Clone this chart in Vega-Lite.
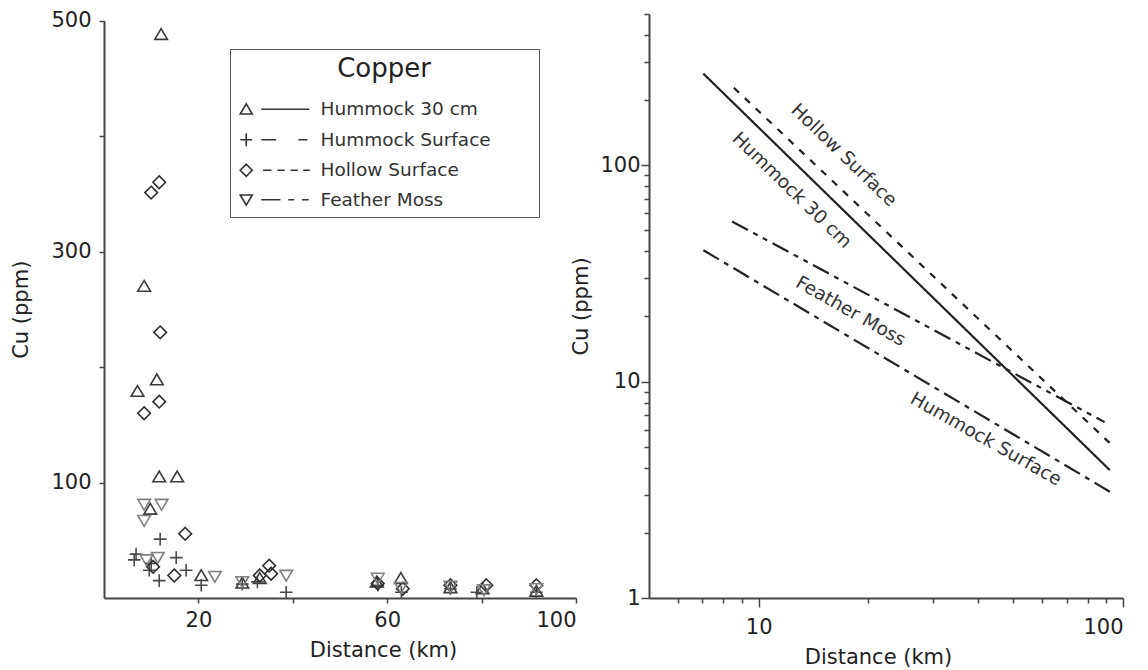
{
  "$schema": "https://vega.github.io/schema/vega-lite/v6.json",
  "padding": {"left": 10, "top": 9, "right": 5, "bottom": 5},
  "background": "white",
  "bounds": "flush",
  "spacing": 73,
  "config": {
    "font": "DejaVu Sans",
    "view": {"stroke": null},
    "axis": {
      "grid": false,
      "labelFont": "DejaVu Sans",
      "titleFont": "DejaVu Sans",
      "labelFontSize": 21,
      "titleFontSize": 21,
      "titleFontWeight": "normal",
      "labelColor": "#222",
      "titleColor": "#222",
      "domainColor": "#444",
      "domainWidth": 2,
      "tickColor": "#444",
      "tickWidth": 1.5
    }
  },
  "hconcat": [
    {
      "width": 472,
      "height": 584,
      "data": {
        "values": [
          {"series": "Hummock 30 cm", "distance": 12.1, "cu": 488},
          {"series": "Hummock 30 cm", "distance": 8.5, "cu": 270},
          {"series": "Hummock 30 cm", "distance": 11.2, "cu": 189},
          {"series": "Hummock 30 cm", "distance": 7.1, "cu": 179},
          {"series": "Hummock 30 cm", "distance": 11.7, "cu": 105},
          {"series": "Hummock 30 cm", "distance": 15.5, "cu": 105},
          {"series": "Hummock 30 cm", "distance": 9.8, "cu": 77},
          {"series": "Hummock 30 cm", "distance": 20.6, "cu": 19.5},
          {"series": "Hummock 30 cm", "distance": 29.3, "cu": 13},
          {"series": "Hummock 30 cm", "distance": 33.0, "cu": 17},
          {"series": "Hummock 30 cm", "distance": 57.8, "cu": 14},
          {"series": "Hummock 30 cm", "distance": 62.9, "cu": 17},
          {"series": "Hummock 30 cm", "distance": 73.4, "cu": 9},
          {"series": "Hummock 30 cm", "distance": 80.2, "cu": 8},
          {"series": "Hummock 30 cm", "distance": 91.6, "cu": 6},
          {"series": "Hummock Surface", "distance": 11.9, "cu": 51},
          {"series": "Hummock Surface", "distance": 6.8, "cu": 38},
          {"series": "Hummock Surface", "distance": 6.4, "cu": 33},
          {"series": "Hummock Surface", "distance": 10.0, "cu": 30},
          {"series": "Hummock Surface", "distance": 9.6, "cu": 24},
          {"series": "Hummock Surface", "distance": 15.3, "cu": 35},
          {"series": "Hummock Surface", "distance": 17.4, "cu": 24},
          {"series": "Hummock Surface", "distance": 11.7, "cu": 15},
          {"series": "Hummock Surface", "distance": 20.6, "cu": 11},
          {"series": "Hummock Surface", "distance": 29.3, "cu": 12},
          {"series": "Hummock Surface", "distance": 32.5, "cu": 14},
          {"series": "Hummock Surface", "distance": 38.6, "cu": 5},
          {"series": "Hummock Surface", "distance": 58.0, "cu": 11},
          {"series": "Hummock Surface", "distance": 63.0, "cu": 5},
          {"series": "Hummock Surface", "distance": 73.4, "cu": 8},
          {"series": "Hummock Surface", "distance": 79.0, "cu": 5},
          {"series": "Hummock Surface", "distance": 91.6, "cu": 5},
          {"series": "Hollow Surface", "distance": 10.0, "cu": 351},
          {"series": "Hollow Surface", "distance": 11.7, "cu": 360},
          {"series": "Hollow Surface", "distance": 11.9, "cu": 230},
          {"series": "Hollow Surface", "distance": 11.7, "cu": 170},
          {"series": "Hollow Surface", "distance": 8.5, "cu": 160},
          {"series": "Hollow Surface", "distance": 17.2, "cu": 55.6},
          {"series": "Hollow Surface", "distance": 14.9, "cu": 19.5},
          {"series": "Hollow Surface", "distance": 10.4, "cu": 27},
          {"series": "Hollow Surface", "distance": 35.0, "cu": 28},
          {"series": "Hollow Surface", "distance": 33.0, "cu": 19.5},
          {"series": "Hollow Surface", "distance": 35.4, "cu": 21},
          {"series": "Hollow Surface", "distance": 58.0, "cu": 12.5},
          {"series": "Hollow Surface", "distance": 63.3, "cu": 8},
          {"series": "Hollow Surface", "distance": 73.4, "cu": 11},
          {"series": "Hollow Surface", "distance": 81.0, "cu": 11},
          {"series": "Hollow Surface", "distance": 91.6, "cu": 11},
          {"series": "Feather Moss", "distance": 8.5, "cu": 81},
          {"series": "Feather Moss", "distance": 12.2, "cu": 81},
          {"series": "Feather Moss", "distance": 8.5, "cu": 67},
          {"series": "Feather Moss", "distance": 11.4, "cu": 35},
          {"series": "Feather Moss", "distance": 9.0, "cu": 33},
          {"series": "Feather Moss", "distance": 23.5, "cu": 18.6},
          {"series": "Feather Moss", "distance": 29.3, "cu": 14},
          {"series": "Feather Moss", "distance": 38.6, "cu": 19.5},
          {"series": "Feather Moss", "distance": 58.0, "cu": 17},
          {"series": "Feather Moss", "distance": 62.9, "cu": 9},
          {"series": "Feather Moss", "distance": 73.4, "cu": 10},
          {"series": "Feather Moss", "distance": 80.5, "cu": 7},
          {"series": "Feather Moss", "distance": 91.6, "cu": 8}
        ]
      },
      "encoding": {
        "x": {
          "field": "distance", "type": "quantitative",
          "scale": {"domain": [0, 100], "nice": false},
          "axis": {
            "values": [20, 40, 60, 80, 100],
            "labelExpr": "datum.value == 40 || datum.value == 80 ? '' : datum.label",
            "tickSize": 5, "labelPadding": 6, "titlePadding": 9,
            "title": "Distance (km)", "titleX": 279
          }
        },
        "y": {
          "field": "cu", "type": "quantitative",
          "scale": {"domain": [0, 500], "nice": false, "range": [584, 6.5]},
          "axis": {
            "values": [100, 200, 300, 400, 500],
            "labelExpr": "datum.value == 200 || datum.value == 400 ? '' : datum.label",
            "tickSize": 5, "labelPadding": 8, "titlePadding": 19,
            "title": "Cu (ppm)"
          }
        }
      },
      "layer": [
        {
          "mark": {"type": "point", "filled": false, "size": 160, "strokeWidth": 1.6, "opacity": 1},
          "encoding": {
            "shape": {
              "field": "series", "type": "nominal",
              "scale": {
                "domain": ["Hummock 30 cm", "Hummock Surface", "Hollow Surface", "Feather Moss"],
                "range": ["M0,-0.9L1,0.8L-1,0.8Z", "M-1,0H1M0,-1V1", "M0,-1L1,0L0,1L-1,0Z", "M0,0.9L1,-0.8L-1,-0.8Z"]
              },
              "legend": null
            },
            "color": {
              "field": "series", "type": "nominal",
              "scale": {
                "domain": ["Hummock 30 cm", "Hummock Surface", "Hollow Surface", "Feather Moss"],
                "range": ["#3a3a3a", "#4a4a4a", "#2e2e2e", "#808080"]
              },
              "legend": null
            }
          }
        },
        {
          "transform": [{"filter": "false"}],
          "mark": {"type": "point", "filled": false, "size": 144, "strokeWidth": 1.6, "color": "#333"},
          "encoding": {
            "shape": {
              "field": "series", "type": "nominal",
              "scale": {
                "domain": ["Hummock 30 cm", "Hummock Surface", "Hollow Surface", "Feather Moss"],
                "range": [
                  "M0,-0.9L1,0.8L-1,0.8ZM2.5,0H10.5",
                  "M-1,0H1M0,-1.1V1.1M2.5,0H5M8.7,0H10.2",
                  "M0,-1L1,0L0,1L-1,0ZM2.8,0H4.2M5.2,0H6.4M7.4,0H8.6M9.5,0H10.6",
                  "M0,0.9L1,-0.8L-1,-0.8ZM2.5,0H5.7M7,0H8M9.3,0H10.4"
                ]
              },
              "legend": {
                "title": "Copper",
                "orient": "none",
                "legendX": 126,
                "legendY": 35,
                "padding": 7,
                "strokeColor": "#555",
                "titleFontSize": 26,
                "titleFontWeight": "normal",
                "titleFont": "DejaVu Sans",
                "titleColor": "#222",
                "titleAnchor": "middle",
                "titlePadding": 18,
                "labelFont": "DejaVu Sans",
                "labelFontSize": 18.5,
                "labelColor": "#333",
                "labelOffset": 65,
                "labelLimit": 400,
                "rowPadding": 10.5,
                "symbolSize": 144,
                "symbolStrokeWidth": 1.6,
                "symbolStrokeColor": "#333",
                "symbolFillColor": "transparent",
                "symbolOpacity": 1,
                "labelExpr": "datum.label + '\u2800\u2800\u2800'"
              }
            }
          }
        }
      ],
      "resolve": {"scale": {"shape": "independent"}}
    },
    {
      "width": 474,
      "height": 584,
      "layer": [
        {
          "data": {
            "values": [
              {"series": "Hummock 30 cm", "x": 7.05, "y": 265},
              {"series": "Hummock 30 cm", "x": 92, "y": 3.9},
              {"series": "Hollow Surface", "x": 8.55, "y": 228},
              {"series": "Hollow Surface", "x": 92, "y": 5.2},
              {"series": "Feather Moss", "x": 8.45, "y": 55},
              {"series": "Feather Moss", "x": 89, "y": 6.5},
              {"series": "Hummock Surface", "x": 7.05, "y": 40.5},
              {"series": "Hummock Surface", "x": 92, "y": 3.1}
            ]
          },
          "mark": {"type": "line", "color": "#222", "strokeWidth": 2.2},
          "encoding": {
            "x": {
              "field": "x", "type": "quantitative",
              "scale": {"type": "log", "domain": [5, 100], "nice": false},
              "axis": {
                "values": [6, 7, 8, 9, 10, 20, 30, 40, 50, 60, 70, 80, 90, 100],
                "labelExpr": "datum.value == 10 ? '10' : datum.value == 100 ? '100' : ''",
                "tickSize": {"condition": {"test": "datum.value == 10 || datum.value == 100", "value": 9}, "value": 5},
                "labelPadding": 9, "titlePadding": 9,
                "title": "Distance (km)", "titleX": 229
              }
            },
            "y": {
              "field": "y", "type": "quantitative",
              "scale": {"type": "log", "domain": [1, 500], "nice": false},
              "axis": {
                "values": [1, 2, 3, 4, 5, 6, 7, 8, 9, 10, 20, 30, 40, 50, 60, 70, 80, 90, 100, 200, 300, 400, 500],
                "labelExpr": "datum.value == 1 ? '1' : datum.value == 10 ? '10' : datum.value == 100 ? '100' : ''",
                "tickSize": {"condition": {"test": "datum.value == 1 || datum.value == 10 || datum.value == 100", "value": 8}, "value": 5},
                "labelPadding": 1, "titlePadding": 8,
                "title": "Cu (ppm)"
              }
            },
            "strokeDash": {
              "field": "series", "type": "nominal",
              "scale": {
                "domain": ["Hummock 30 cm", "Hummock Surface", "Hollow Surface", "Feather Moss"],
                "range": [[1, 0], [18, 6, 5, 6], [7, 8], [18, 6, 5, 6, 5, 6]]
              },
              "legend": null
            }
          }
        },
        {
          "data": {
            "values": [
              {"label": "Hollow Surface", "x": 17.15, "y": 111.5},
              {"label": "Hummock 30 cm", "x": 12.35, "y": 76.8},
              {"label": "Feather Moss", "x": 17.9, "y": 21.2},
              {"label": "Hummock Surface", "x": 42.1, "y": 5.43}
            ]
          },
          "layer": [
            {
              "transform": [{"filter": "datum.label == 'Hollow Surface' || datum.label == 'Hummock 30 cm'"}],
              "mark": {"type": "text", "angle": 44, "fontSize": 18.5, "font": "DejaVu Sans", "color": "#333", "align": "center", "baseline": "middle"},
              "encoding": {
                "x": {"field": "x", "type": "quantitative"},
                "y": {"field": "y", "type": "quantitative"},
                "text": {"field": "label"}
              }
            },
            {
              "transform": [{"filter": "datum.label == 'Feather Moss' || datum.label == 'Hummock Surface'"}],
              "mark": {"type": "text", "angle": 29.5, "fontSize": 18.5, "font": "DejaVu Sans", "color": "#333", "align": "center", "baseline": "middle"},
              "encoding": {
                "x": {"field": "x", "type": "quantitative"},
                "y": {"field": "y", "type": "quantitative"},
                "text": {"field": "label"}
              }
            }
          ]
        }
      ]
    }
  ]
}
